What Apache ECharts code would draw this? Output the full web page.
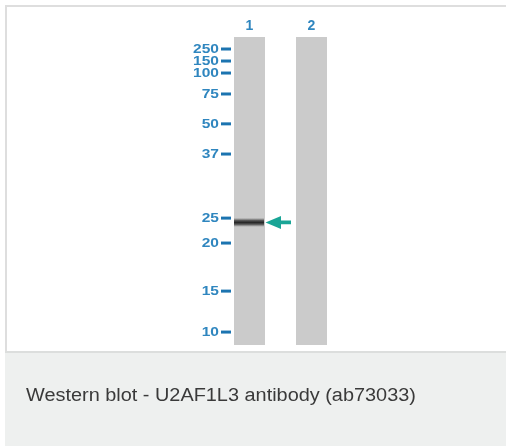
<!DOCTYPE html>
<html><head><meta charset="utf-8">
<script src="https://cdn.jsdelivr.net/npm/echarts@6/dist/echarts.min.js"></script>
<style>html,body{margin:0;padding:0;background:#fff}#c{width:506px;height:446px}</style>
</head><body><div id="c"></div>
<script>
// Lanes
const lanes = ['1', '2'];
// Marker ladder (kDa) and their relative migration (% of lane length from top)
const markerLabels = ['250', '150', '100', '75', '50', '37', '25', '20', '15', '10'];
const markerRf = [3.9, 7.8, 11.7, 18.5, 28.2, 38.0, 58.8, 66.9, 82.5, 95.8];
// Detected band: lane index, relative migration, intensity
const bandLane = [0];
const bandRf = [60.2];
const bandIntensity = [1];
const laneLength = [100, 100];
const caption = 'Western blot - U2AF1L3 antibody (ab73033)';

const chart = echarts.init(document.getElementById('c'), null, {renderer: 'canvas'});
const blue = '#2f86bf';
chart.setOption({
  animation: false,
  backgroundColor: '#fff',
  graphic: [
    {type: 'rect', shape: {x: 5, y: 5, width: 501, height: 2}, style: {fill: '#dedede'}, z: 0},
    {type: 'rect', shape: {x: 5, y: 5, width: 2, height: 347}, style: {fill: '#dedede'}, z: 0},
    {type: 'rect', shape: {x: 5, y: 351, width: 501, height: 95}, style: {fill: '#eef0ef'}, z: 0},
    {type: 'rect', shape: {x: 5, y: 351, width: 501, height: 2}, style: {fill: '#dcdedd'}, z: 0},
    {type: 'text', x: 26, y: 396, scaleX: 1.105, originX: 0, originY: 0,
      style: {text: caption, fill: '#3a3a3a', font: '18px "Liberation Sans", Arial, sans-serif', verticalAlign: 'middle'}, z: 5}
  ],
  grid: {left: 218.5, width: 124, top: 37, height: 308},
  xAxis: {type: 'category', data: lanes, position: 'top',
    axisLine: {show: false}, axisTick: {show: false},
    axisLabel: {color: blue, fontSize: 14, fontWeight: 'bold', fontFamily: 'Liberation Sans, Arial, sans-serif', margin: 4}},
  yAxis: {type: 'value', min: 0, max: 100, inverse: true, show: false},
  series: [
    {type: 'bar', data: laneLength, barWidth: 31, itemStyle: {color: '#cbcbcb'}, silent: true, z: 1},
    {type: 'custom', z: 5, silent: true,
      data: markerLabels.map((l, i) => [0, markerRf[i], l]),
      renderItem: function (params, api) {
        const p = api.coord([api.value(0), api.value(1)]);
        const laneLeft = p[0] - 15.5;
        const tx = laneLeft - 15;
        return {type: 'group', children: [
          {type: 'rect', shape: {x: laneLeft - 13, y: p[1] - 1.5, width: 10, height: 3}, style: {fill: '#1c74b0'}},
          {type: 'text', x: tx, y: p[1], scaleX: 1.15, originX: 0, originY: 0, style: {text: markerLabels[params.dataIndex], fill: blue,
            font: 'bold 13.5px "Liberation Sans", Arial, sans-serif', align: 'right', verticalAlign: 'middle'}}
        ]};
      }},
    {type: 'custom', z: 6, silent: true,
      data: bandLane.map((l, i) => [l, bandRf[i], bandIntensity[i]]),
      renderItem: function (params, api) {
        const p = api.coord([api.value(0), api.value(1)]);
        const left = p[0] - 15.5, right = p[0] + 15.5;
        return {type: 'group', children: [
          {type: 'rect', shape: {x: left, y: p[1] - 4.5, width: 30, height: 9},
            style: {fill: new echarts.graphic.LinearGradient(0, 0, 0, 1, [
              {offset: 0, color: 'rgba(70,70,70,0)'},
              {offset: 0.3, color: 'rgba(50,50,50,0.8)'},
              {offset: 0.5, color: 'rgba(30,30,30,0.95)'},
              {offset: 0.7, color: 'rgba(50,50,50,0.8)'},
              {offset: 1, color: 'rgba(70,70,70,0)'}])}},
          {type: 'polygon', shape: {points: [
            [right + 0.5, p[1]], [right + 16, p[1] - 6.5], [right + 16, p[1] - 1.8], [right + 26, p[1] - 1.8],
            [right + 26, p[1] + 1.8], [right + 16, p[1] + 1.8], [right + 16, p[1] + 6.5]]},
            style: {fill: '#19a596'}}
        ]};
      }}
  ]
});
</script></body></html>
